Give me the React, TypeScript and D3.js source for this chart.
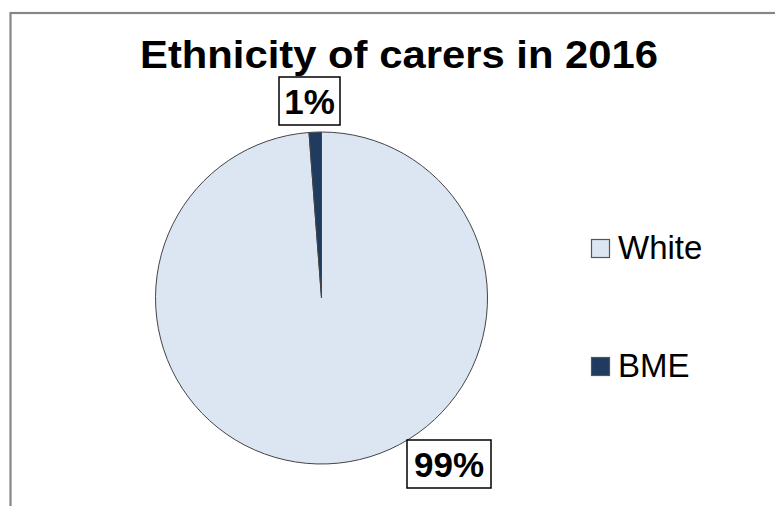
import React from "react";
import * as d3 from "d3";

const categories = ["White", "BME"];
const values = [98.8, 1.2];
const labels = ["99%", "1%"];
const colors = ["#dce6f2", "#1f3b5f"];
const title = "Ethnicity of carers in 2016";

export default function App() {
  const W = 775, H = 506;
  const cx = 321.5, cy = 298, r = 166;
  const pie = d3.pie<number>().sort(null).startAngle(0).endAngle(2 * Math.PI);
  const arcs = pie(values);
  const arc = d3.arc<d3.PieArcDatum<number>>().innerRadius(0).outerRadius(r);
  const labelPos = [
    { x: 449, y: 464, w: 84, h: 48 },
    { x: 309.5, y: 101, w: 61, h: 48 },
  ];
  const font = "Liberation Sans, Arial, sans-serif";
  return (
    <svg width={W} height={H} style={{ position: "absolute", left: 0, top: 0 }}>
      <rect x={0} y={0} width={W} height={H} fill="#fff" />
      <rect x={10.5} y={13} width={W + 20} height={H + 20} fill="none" stroke="#868686" strokeWidth={2.2} />
      <text x={399} y={68} textAnchor="middle" fontFamily={font} fontWeight="bold" fontSize={39} fill="#000" textLength={518} lengthAdjust="spacingAndGlyphs">
        {title}
      </text>
      <g transform={`translate(${cx},${cy})`}>
        {arcs.map((a, i) => (
          <path key={i} d={arc(a) || ""} fill={colors[i]} stroke="#444" strokeWidth={1} />
        ))}
      </g>
      {labelPos.map((p, i) => (
        <g key={i}>
          <rect x={p.x - p.w / 2} y={p.y - p.h / 2} width={p.w} height={p.h} fill="#fff" stroke="#000" strokeWidth={1.5} />
          <text x={p.x} y={p.y + 13} textAnchor="middle" fontFamily={font} fontWeight="bold" fontSize={35} fill="#000">
            {labels[i]}
          </text>
        </g>
      ))}
      {categories.map((c, i) => (
        <g key={c} transform={`translate(591, ${239 + i * 118})`}>
          <rect x={0.5} y={0.5} width={18} height={18} fill={colors[i]} stroke="#555" strokeWidth={1.2} />
          <text x={27} y={20} fontFamily={font} fontSize={33} fill="#000">{c}</text>
        </g>
      ))}
    </svg>
  );
}
